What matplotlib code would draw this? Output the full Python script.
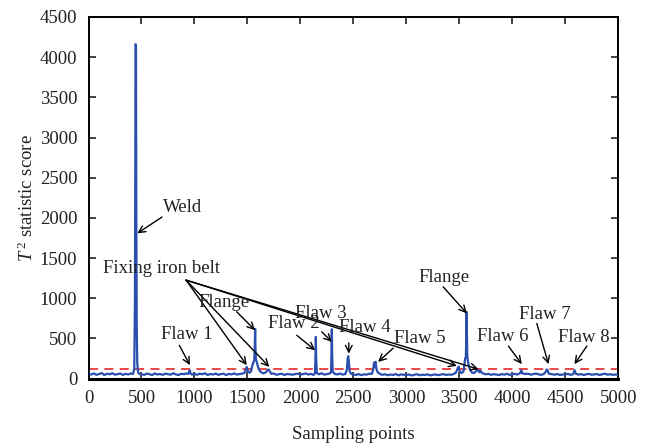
import matplotlib
matplotlib.use("Agg")
import matplotlib.pyplot as plt

plt.rcParams['font.family'] = ['Liberation Serif', 'DejaVu Serif']
plt.rcParams['mathtext.fontset'] = 'custom'
plt.rcParams['mathtext.rm'] = 'Liberation Serif'
plt.rcParams['mathtext.it'] = 'Liberation Serif:italic'

# ---------------- data ----------------
sample_idx = [
    0, 25, 50, 75, 100, 125, 150, 175, 200, 225, 250, 275, 300, 325, 350, 375, 400,
    420, 432, 438, 442, 445, 448, 451, 455, 460, 468,
    475, 500, 525, 550, 575, 600, 625, 650, 675, 700, 725, 750, 775, 800, 825, 850, 875, 900, 925, 945, 955, 962, 975,
    1000, 1025, 1050, 1075, 1100, 1125, 1150, 1175, 1200, 1225, 1250, 1275, 1300, 1325, 1350, 1375, 1400, 1425, 1450, 1470,
    1485, 1494, 1505, 1520, 1535, 1548, 1558, 1565, 1570, 1573, 1576, 1580, 1590, 1600, 1615, 1630, 1650, 1675, 1690, 1700, 1712,
    1725, 1750, 1775, 1800, 1825, 1850, 1875, 1900, 1925, 1950, 1975,
    2000, 2025, 2050, 2075, 2100, 2125, 2138, 2143, 2146, 2149, 2155, 2175, 2200, 2225, 2250, 2275, 2290, 2294, 2297, 2300, 2305,
    2325, 2350, 2375, 2400, 2425, 2440, 2446, 2452, 2458, 2465, 2480,
    2500, 2525, 2550, 2575, 2600, 2625, 2650, 2675, 2688, 2695, 2702, 2710, 2718, 2730, 2750, 2775, 2800, 2825, 2850, 2875, 2900, 2925, 2950, 2975,
    3000, 3025, 3050, 3075, 3100, 3125, 3150, 3175, 3200, 3225, 3250, 3275, 3300, 3325, 3350, 3375, 3400, 3425, 3450, 3470,
    3485, 3495, 3505, 3520, 3540, 3555, 3562, 3566, 3569, 3572, 3575, 3580, 3590, 3600, 3620, 3640, 3660, 3675, 3690, 3700, 3715,
    3735, 3750, 3775, 3800, 3825, 3850, 3875, 3900, 3925, 3950, 3975,
    4000, 4025, 4050, 4075, 4085, 4095, 4125, 4150, 4175, 4200, 4225, 4250, 4275, 4300, 4318, 4325, 4332, 4345, 4375, 4400, 4425, 4450, 4475,
    4500, 4525, 4550, 4575, 4588, 4600, 4625, 4650, 4675, 4700, 4725, 4750, 4775, 4800, 4825, 4850, 4875, 4900, 4925, 4950, 4975, 5000,
]
t2_score = [
    60, 52, 66, 48, 58, 70, 45, 62, 55, 68, 50, 57, 64, 47, 61, 53, 66,
    58, 120, 900, 3000, 4160, 4120, 2200, 700, 200, 80,
    63, 55, 48, 62, 57, 44, 66, 52, 59, 47, 63, 56, 50, 68, 54, 46, 61, 57, 65, 60, 105, 70, 52,
    58, 49, 63, 55, 67, 46, 59, 52, 64, 48, 57, 62, 45, 60, 53, 66, 51, 58, 63, 70,
    110, 145, 90, 75, 95, 170, 210, 230, 420, 620, 380, 240, 200, 150, 100, 80, 66, 80, 105, 115, 90,
    62, 64, 48, 57, 61, 46, 59, 55, 50, 56, 63,
    49, 58, 66, 52, 60, 47, 70, 300, 520, 260, 70, 55, 68, 50, 57, 64, 80, 350, 615, 300, 90,
    59, 53, 65, 50, 60, 120, 250, 280, 200, 90, 60,
    52, 47, 58, 44, 55, 50, 62, 60, 120, 200, 150, 210, 120, 80, 60, 48, 56, 43, 52, 46, 58, 41, 54, 48,
    45, 52, 40, 49, 56, 43, 50, 46, 55, 41, 48, 53, 44, 50, 57, 47, 52, 49, 60, 80,
    130, 150, 90, 70, 90, 250, 270, 500, 830, 600, 300, 230, 160, 120, 75, 70, 95, 110, 80, 100, 70,
    62, 55, 60, 48, 56, 52, 45, 58, 50, 62, 47,
    55, 60, 52, 70, 105, 66, 58, 62, 50, 57, 64, 53, 48, 60, 90, 115, 110, 62, 55, 50, 58, 47, 52,
    54, 60, 48, 56, 105, 62, 51, 57, 46, 55, 60, 49, 53, 58, 45, 56, 62, 50, 55, 48, 52, 50,
]
threshold = 120

xticks = [0, 500, 1000, 1500, 2000, 2500, 3000, 3500, 4000, 4500, 5000]
yticks = [0, 500, 1000, 1500, 2000, 2500, 3000, 3500, 4000, 4500]

# annotations: label, text position, arrow start, arrow tips
ann_labels = ["Weld", "Fixing iron belt", "Flange", "Flaw 1", "Flaw 2", "Flaw 3",
              "Flaw 4", "Flaw 5", "Flange", "Flaw 6", "Flaw 7", "Flaw 8"]
ann_text_xy = [(892, 2135), (691, 1376), (1280, 952), (930, 554), (1941, 691), (2195, 815),
               (2611, 641), (3130, 504), (3357, 1264), (3914, 529), (4311, 803), (4679, 517)]
ann_start_xy = [(694, 2011), (921, 1226), (1399, 832), (857, 415), (1966, 540), (2202, 583),
                (2457, 445), (2876, 380), (3348, 1143), (3964, 405), (4232, 686), (4704, 405)]
ann_tips = [[(461, 1808)],
            [(1494, 168), (1707, 147), (3477, 160), (3681, 118)],
            [(1572, 603)], [(958, 168)], [(2139, 354)], [(2297, 458)],
            [(2457, 312)], [(2734, 209)], [(3571, 812)], [(4090, 181)],
            [(4342, 181)], [(4587, 181)]]

# ---------------- plot ----------------
fig = plt.figure(figsize=(6.58, 4.45), dpi=100)
ax = fig.add_axes([0.1345, 0.149, 0.805, 0.813])

ax.plot(sample_idx, t2_score, color='#2a4eae', lw=1.6, zorder=3)
ax.axhline(threshold, color='#e8383a', lw=1.3, ls=(0, (5, 3.5)), zorder=2)

ax.set_xlim(0, 5000)
ax.set_ylim(0, 4500)
ax.set_xticks(xticks)
ax.set_yticks(yticks)
ax.tick_params(direction='in', length=5, width=1.2, top=True, right=True,
               labelsize=13.5, pad=8, colors='#222222')
for sp in ax.spines.values():
    sp.set_linewidth(1.4)
ax.spines['bottom'].set_linewidth(2.2)

ax.set_xlabel('Sampling points', fontsize=13.5, labelpad=14, color='#222222')
ax.set_ylabel(r'$T^{\,2}$ statistic score', fontsize=13.5, labelpad=2, color='#222222')

for lab, txy, sxy, tips in zip(ann_labels, ann_text_xy, ann_start_xy, ann_tips):
    ax.text(txy[0], txy[1], lab, fontsize=13.5, ha='center', va='center',
            color='#222222', zorder=5)
    for tip in tips:
        ax.annotate('', xy=tip, xytext=sxy,
                    arrowprops=dict(arrowstyle='->', lw=1.0, color='black',
                                    shrinkA=0, shrinkB=0, mutation_scale=12),
                    zorder=4)

fig.savefig('out.png', dpi=100)
